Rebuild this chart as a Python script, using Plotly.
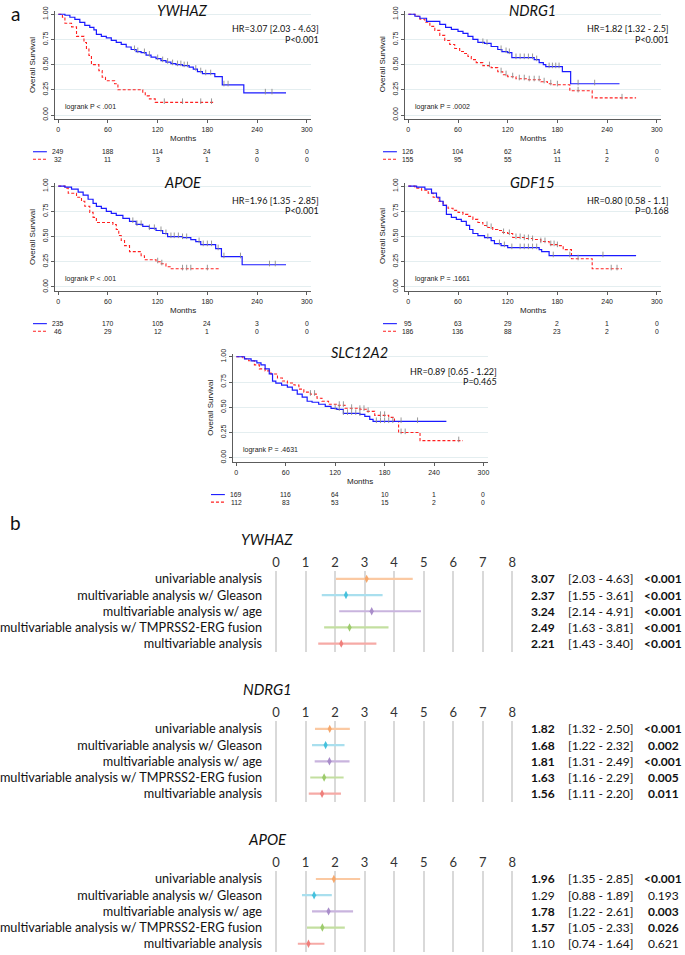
import plotly.graph_objects as go

W, H = 685, 955

# ---------------- Kaplan-Meier data ----------------
month_ticks = [0, 60, 120, 180, 240, 300]
surv_ticks = [0, 0.25, 0.5, 0.75, 1.0]
surv_tick_text = ["0.00", "0.25", "0.50", "0.75", "1.00"]
km_genes = ["YWHAZ", "NDRG1", "APOE", "GDF15", "SLC12A2"]

ywhaz_blue_t = [0, 8, 14, 20, 26, 32, 38, 43, 46, 52, 58, 64, 70, 76, 82, 88, 94, 100, 106, 112, 118, 124, 130, 136, 142, 150, 158, 163, 168, 174, 189, 198, 224, 275]
ywhaz_blue_s = [1, 0.99, 0.97, 0.95, 0.92, 0.89, 0.87, 0.845, 0.80, 0.78, 0.765, 0.74, 0.72, 0.70, 0.675, 0.65, 0.63, 0.62, 0.595, 0.575, 0.56, 0.54, 0.525, 0.51, 0.50, 0.49, 0.475, 0.455, 0.43, 0.41, 0.38, 0.30, 0.22, 0.22]
ywhaz_red_t = [0, 5, 8, 16, 22, 31, 34, 37, 40, 49, 53, 57, 68, 72, 102, 105, 110, 117, 187]
ywhaz_red_s = [1, 0.97, 0.91, 0.875, 0.78, 0.72, 0.66, 0.59, 0.50, 0.44, 0.375, 0.34, 0.31, 0.25, 0.22, 0.19, 0.16, 0.125, 0.125]
ywhaz_blue_cens = [92, 96, 104, 110, 120, 126, 132, 138, 144, 148, 152, 156, 166, 172, 178, 184, 200, 205, 250, 258]
ywhaz_red_cens = [128, 150, 172, 185]

ndrg1_blue_t = [0, 8, 14, 22, 38, 45, 52, 60, 66, 72, 78, 84, 92, 100, 108, 113, 120, 125, 152, 158, 163, 166, 186, 196, 255]
ndrg1_blue_s = [1, 0.98, 0.96, 0.93, 0.90, 0.87, 0.85, 0.83, 0.81, 0.78, 0.75, 0.72, 0.71, 0.68, 0.65, 0.63, 0.62, 0.57, 0.55, 0.52, 0.50, 0.48, 0.43, 0.31, 0.31]
ndrg1_red_t = [0, 8, 14, 20, 26, 32, 38, 44, 50, 56, 62, 68, 72, 76, 82, 90, 100, 108, 114, 120, 130, 145, 160, 168, 175, 195, 222, 275]
ndrg1_red_s = [1, 0.98, 0.95, 0.92, 0.88, 0.84, 0.79, 0.74, 0.70, 0.66, 0.63, 0.61, 0.58, 0.55, 0.52, 0.49, 0.47, 0.43, 0.40, 0.38, 0.36, 0.35, 0.33, 0.31, 0.30, 0.24, 0.17, 0.17]
ndrg1_blue_cens = [90, 95, 112, 118, 122, 130, 135, 140, 145, 150, 155, 170, 174, 178, 182, 205, 225]
ndrg1_red_cens = [98, 112, 118, 126, 134, 140, 146, 152, 158, 164, 172, 180, 205, 258]

apoe_blue_t = [0, 8, 16, 24, 30, 36, 42, 46, 52, 58, 64, 70, 78, 86, 94, 102, 110, 118, 126, 132, 150, 160, 166, 172, 190, 197, 222, 275]
apoe_blue_s = [1, 0.99, 0.97, 0.94, 0.91, 0.87, 0.83, 0.80, 0.78, 0.75, 0.73, 0.71, 0.68, 0.65, 0.62, 0.60, 0.58, 0.56, 0.53, 0.50, 0.49, 0.47, 0.45, 0.42, 0.38, 0.30, 0.22, 0.22]
apoe_red_t = [0, 8, 12, 22, 28, 32, 38, 42, 46, 66, 70, 73, 76, 80, 86, 100, 104, 118, 124, 130, 135, 195]
apoe_red_s = [1, 0.98, 0.93, 0.89, 0.85, 0.80, 0.74, 0.69, 0.64, 0.62, 0.57, 0.51, 0.46, 0.41, 0.35, 0.31, 0.27, 0.25, 0.23, 0.20, 0.18, 0.18]
apoe_blue_cens = [90, 95, 100, 110, 116, 124, 130, 136, 140, 145, 150, 155, 170, 175, 180, 185, 193, 200, 220, 255, 262]
apoe_red_cens = [120, 125, 150, 155, 160, 180]

gdf15_blue_t = [0, 10, 20, 28, 34, 38, 42, 46, 52, 58, 64, 70, 74, 78, 84, 92, 100, 104, 112, 120, 158, 161, 170, 275]
gdf15_blue_s = [1, 0.99, 0.97, 0.93, 0.89, 0.85, 0.81, 0.72, 0.69, 0.67, 0.65, 0.61, 0.57, 0.53, 0.51, 0.49, 0.46, 0.43, 0.41, 0.39, 0.37, 0.35, 0.31, 0.31]
gdf15_red_t = [0, 8, 16, 24, 30, 36, 42, 48, 54, 60, 66, 72, 78, 84, 90, 96, 102, 108, 114, 120, 126, 140, 150, 160, 170, 180, 187, 197, 222, 258]
gdf15_red_s = [1, 0.98, 0.96, 0.93, 0.89, 0.85, 0.81, 0.78, 0.76, 0.74, 0.72, 0.70, 0.67, 0.64, 0.61, 0.59, 0.57, 0.56, 0.54, 0.53, 0.49, 0.48, 0.47, 0.45, 0.42, 0.41, 0.37, 0.28, 0.18, 0.18]
gdf15_blue_cens = [96, 110, 116, 125, 135, 140, 145, 150, 155, 175, 195, 235]
gdf15_red_cens = [95, 100, 115, 122, 130, 135, 140, 145, 150, 160, 165, 172, 176, 180, 205, 245, 252]

slc_blue_t = [0, 10, 18, 25, 30, 35, 40, 44, 48, 55, 62, 68, 74, 80, 86, 92, 100, 108, 115, 122, 130, 150, 156, 162, 166, 255]
slc_blue_s = [1, 0.98, 0.96, 0.94, 0.92, 0.88, 0.83, 0.76, 0.74, 0.72, 0.70, 0.67, 0.63, 0.60, 0.56, 0.55, 0.53, 0.51, 0.49, 0.48, 0.44, 0.43, 0.41, 0.38, 0.36, 0.36]
slc_red_t = [0, 8, 15, 22, 28, 35, 42, 50, 56, 62, 70, 76, 82, 90, 98, 104, 112, 122, 132, 150, 158, 168, 185, 192, 197, 223, 275]
slc_red_s = [1, 0.98, 0.96, 0.92, 0.88, 0.86, 0.83, 0.79, 0.76, 0.74, 0.72, 0.68, 0.65, 0.63, 0.59, 0.56, 0.53, 0.52, 0.49, 0.48, 0.46, 0.42, 0.40, 0.36, 0.25, 0.17, 0.17]
slc_blue_cens = [120, 125, 130, 135, 140, 145, 150, 170, 175, 180, 185, 190, 200, 220]
slc_red_cens = [90, 95, 125, 130, 140, 150, 155, 160, 175, 180, 200, 205, 270]

ywhaz_risk_blue = [249, 188, 114, 24, 3, 0]
ywhaz_risk_red = [32, 11, 3, 1, 0, 0]
ndrg1_risk_blue = [126, 104, 62, 14, 1, 0]
ndrg1_risk_red = [155, 95, 55, 11, 2, 0]
apoe_risk_blue = [235, 170, 105, 24, 3, 0]
apoe_risk_red = [46, 29, 12, 1, 0, 0]
gdf15_risk_blue = [95, 63, 29, 2, 1, 0]
gdf15_risk_red = [186, 136, 88, 23, 2, 0]
slc_risk_blue = [169, 116, 64, 10, 1, 0]
slc_risk_red = [112, 83, 53, 15, 2, 0]

km_hr_text = ["HR=3.07 [2.03 - 4.63]", "HR=1.82 [1.32 - 2.5]", "HR=1.96 [1.35 - 2.85]", "HR=0.80 [0.58 - 1.1]", "HR=0.89 [0.65 - 1.22]"]
km_p_text = ["P<0.001", "P<0.001", "P<0.001", "P=0.168", "P=0.465"]
km_logrank = ["logrank P < .001", "logrank P = .0002", "logrank P < .001", "logrank P = .1661", "logrank P = .4631"]

# ---------------- Forest plot data ----------------
forest_genes = ["YWHAZ", "NDRG1", "APOE"]
analyses = ["univariable analysis", "multivariable analysis w/ Gleason", "multivariable analysis w/ age",
            "multivariable analysis w/ TMPRSS2-ERG fusion", "multivariable analysis"]
hr_ticks = [0, 1, 2, 3, 4, 5, 6, 7, 8]

ywhaz_hr = [3.07, 2.37, 3.24, 2.49, 2.21]
ywhaz_lo = [2.03, 1.55, 2.14, 1.63, 1.43]
ywhaz_hi = [4.63, 3.61, 4.91, 3.81, 3.40]
ywhaz_p = ["<0.001", "<0.001", "<0.001", "<0.001", "<0.001"]
ywhaz_sig = [True, True, True, True, True]

ndrg1_hr = [1.82, 1.68, 1.81, 1.63, 1.56]
ndrg1_lo = [1.32, 1.22, 1.31, 1.16, 1.11]
ndrg1_hi = [2.50, 2.32, 2.49, 2.29, 2.20]
ndrg1_p = ["<0.001", "0.002", "<0.001", "0.005", "0.011"]
ndrg1_sig = [True, True, True, True, True]

apoe_hr = [1.96, 1.29, 1.78, 1.57, 1.10]
apoe_lo = [1.35, 0.88, 1.22, 1.05, 0.74]
apoe_hi = [2.85, 1.89, 2.61, 2.33, 1.64]
apoe_p = ["<0.001", "0.193", "0.003", "0.026", "0.621"]
apoe_sig = [True, False, True, True, False]

# ---------------- styling / layout constants ----------------
LATO = "Lato, sans-serif"
ARIAL = "Liberation Sans, Arial, sans-serif"
BLUE = "#1a1aff"
RED = "#ff2020"
CENS = "#8c8c8c"
bar_colors = ["#fbc9a2", "#a9dfee", "#c9b4de", "#c3dfa0", "#f6aaa6"]
mark_colors = ["#f6a86c", "#45c1dd", "#a98dca", "#9dcb6c", "#ef7f7b"]

# panel geometry in pixels: x of month 0, px per month, y of surv=1, y of surv=0
km_geom = [(55.7, 0.8343, 9.3, 110.7), (408.3, 0.8343, 9.3, 110.7),
           (55.7, 0.8343, 182.3, 283.7), (408.3, 0.8343, 182.3, 283.7),
           (235.0, 0.830, 354.0, 455.7)]
XR = [-4.5, 305]
YR = [-0.045, 1.03]


def fx(p):
    return p / W


def fy(p):
    return 1 - p / H


def step_at(ts, ss, t):
    v = ss[0]
    for ti, si in zip(ts, ss):
        if ti <= t:
            v = si
    return v


def ann(text, x, y, xref="paper", yref="paper", xanchor="center", font=None, **kw):
    d = dict(text=text, x=x, y=y, xref=xref, yref=yref, xanchor=xanchor, yanchor="middle",
             showarrow=False, borderpad=0, font=font)
    d.update(kw)
    return d


km_curves = [
    (ywhaz_blue_t, ywhaz_blue_s, ywhaz_red_t, ywhaz_red_s, ywhaz_blue_cens, ywhaz_red_cens, ywhaz_risk_blue, ywhaz_risk_red),
    (ndrg1_blue_t, ndrg1_blue_s, ndrg1_red_t, ndrg1_red_s, ndrg1_blue_cens, ndrg1_red_cens, ndrg1_risk_blue, ndrg1_risk_red),
    (apoe_blue_t, apoe_blue_s, apoe_red_t, apoe_red_s, apoe_blue_cens, apoe_red_cens, apoe_risk_blue, apoe_risk_red),
    (gdf15_blue_t, gdf15_blue_s, gdf15_red_t, gdf15_red_s, gdf15_blue_cens, gdf15_red_cens, gdf15_risk_blue, gdf15_risk_red),
    (slc_blue_t, slc_blue_s, slc_red_t, slc_red_s, slc_blue_cens, slc_red_cens, slc_risk_blue, slc_risk_red),
]

fig = go.Figure()
annotations = []
shapes = []
layout_axes = {}

for i, gene in enumerate(km_genes):
    n = i + 1
    sfx = "" if n == 1 else str(n)
    xref, yref = "x" + sfx, "y" + sfx
    x0, ppm, y1, y0 = km_geom[i]
    unit = y0 - y1
    left = x0 + XR[0] * ppm
    right = x0 + XR[1] * ppm
    top = y0 - YR[1] * unit
    bottom = y0 - YR[0] * unit
    bt, bs, rt, rs, bc, rc, rb, rr = km_curves[i]

    fig.add_trace(go.Scatter(x=rt, y=rs, mode="lines", line=dict(color=RED, width=1.1, dash="3px,2px", shape="hv"),
                             xaxis=xref, yaxis=yref, hoverinfo="skip"))
    fig.add_trace(go.Scatter(x=bt, y=bs, mode="lines", line=dict(color=BLUE, width=1.2, shape="hv"),
                             xaxis=xref, yaxis=yref, hoverinfo="skip"))
    for cts, ts, ss in ((bc, bt, bs), (rc, rt, rs)):
        fig.add_trace(go.Scatter(x=cts, y=[step_at(ts, ss, c) + 0.012 for c in cts], mode="markers",
                                 marker=dict(symbol="line-ns-open", size=4, color=CENS,
                                             line=dict(color=CENS, width=0.9)),
                                 xaxis=xref, yaxis=yref, hoverinfo="skip"))

    layout_axes["xaxis" + sfx] = dict(domain=[fx(left), fx(right)], range=XR, anchor=yref,
                                      tickvals=month_ticks, ticks="outside", ticklen=3, tickwidth=0.8,
                                      tickcolor="#333", showline=True, linecolor="#333", linewidth=0.8,
                                      showgrid=False, zeroline=False,
                                      tickfont=dict(family=ARIAL, size=7, color="#222"))
    layout_axes["yaxis" + sfx] = dict(domain=[fy(bottom), fy(top)], range=YR, anchor=xref,
                                      tickvals=surv_ticks, ticktext=surv_tick_text, tickangle=-90,
                                      ticks="outside", ticklen=3, tickwidth=0.8, tickcolor="#333",
                                      showline=True, linecolor="#333", linewidth=0.8,
                                      showgrid=True, gridcolor="#e4eef0", gridwidth=1, zeroline=False,
                                      tickfont=dict(family=ARIAL, size=7, color="#222"))

    f_title = dict(family=LATO, size=14.5, color="#111")
    f_hr = dict(family=LATO, size=9, color="#111")
    f_ar = dict(family=ARIAL, size=7, color="#222")
    f_ar8 = dict(family=ARIAL, size=8, color="#222")
    annotations.append(ann("<i>" + gene + "</i>", fx(x0 + 150 * ppm), fy(y1 - 4), font=f_title))
    annotations.append(ann(km_hr_text[i], fx(x0 + 263.5), fy(y1 + 14.5), xanchor="right", font=f_hr))
    annotations.append(ann(km_p_text[i], fx(x0 + 263.5), fy(y1 + 25), xanchor="right", font=f_hr))
    annotations.append(ann(km_logrank[i], fx(x0 + 5.5), fy(y0 - 8.3), xanchor="left", font=f_ar))
    annotations.append(ann("Overall Survival", fx(x0 - 26), fy((y0 + y1) / 2), font=f_ar8, textangle=-90))
    annotations.append(ann("Months", fx(x0 + 150 * ppm), fy(bottom + 19.5), font=f_ar8))
    f_risk = dict(family=ARIAL, size=6.8, color="#222")
    for k, m in enumerate(month_ticks):
        annotations.append(ann(str(rb[k]), m, fy(bottom + 32.6), xref=xref, font=f_risk))
        annotations.append(ann(str(rr[k]), m, fy(bottom + 40), xref=xref, font=f_risk))
    shapes.append(dict(type="line", xref="paper", yref="paper", x0=fx(x0 - 25.5), x1=fx(x0 - 11.5),
                       y0=fy(bottom + 32.4), y1=fy(bottom + 32.4), line=dict(color=BLUE, width=1.1)))
    shapes.append(dict(type="line", xref="paper", yref="paper", x0=fx(x0 - 25.5), x1=fx(x0 - 11.5),
                       y0=fy(bottom + 40), y1=fy(bottom + 40), line=dict(color=RED, width=1.1, dash="3px,2px")))

# ---------------- forest plots ----------------
forest_data = [
    (ywhaz_hr, ywhaz_lo, ywhaz_hi, ywhaz_p, ywhaz_sig),
    (ndrg1_hr, ndrg1_lo, ndrg1_hi, ndrg1_p, ndrg1_sig),
    (apoe_hr, apoe_lo, apoe_hi, apoe_p, apoe_sig),
]
F_X0, F_PPU = 275.0, 29.75       # px of HR=0, px per unit
F_XR = [-0.15, 8.15]
ROW = 16.3
BLOCK = 151.0
COL_HR, COL_CI, COL_P = 544.0, 601.5, 665.0
f_val = dict(family=LATO, size=12, color="#111")

for b, gene in enumerate(forest_genes):
    n = 6 + b
    sfx = str(n)
    xref, yref = "x" + sfx, "y" + sfx
    hr, lo, hi, pv, sig = forest_data[b]
    row0 = 577.5 + b * BLOCK
    top = row0 - ROW / 2
    bottom = row0 + 4 * ROW + ROW / 2
    for r in range(5):
        fig.add_trace(go.Scatter(
            x=[hr[r]], y=[r], mode="markers", xaxis=xref, yaxis=yref, hoverinfo="skip",
            marker=dict(symbol="diamond-tall", size=6, color=mark_colors[r]),
            error_x=dict(type="data", symmetric=False, array=[hi[r] - hr[r]], arrayminus=[hr[r] - lo[r]],
                         color=bar_colors[r], thickness=2.2, width=0)))
        hr_txt = "%.2f" % hr[r]
        p_txt = pv[r]
        if sig[r]:
            hr_txt = "<b>" + hr_txt + "</b>"
            p_txt = "<b>" + p_txt + "</b>"
        annotations.append(ann(hr_txt, fx(COL_HR), r, yref=yref, font=f_val))
        annotations.append(ann("[%.2f - %.2f]" % (lo[r], hi[r]), fx(COL_CI), r, yref=yref, font=f_val))
        annotations.append(ann(p_txt, fx(COL_P), r, yref=yref, font=f_val))
    for txt, cx in (("HR", COL_HR), ("[95%CI]", COL_CI), ("P value", COL_P)):
        annotations.append(ann(txt, fx(cx), -1, yref=yref, font=dict(family=LATO, size=12, color="#222")))
    annotations.append(ann("<i>" + gene + "</i>", fx(266), fy(537 + b * BLOCK),
                           font=dict(family=LATO, size=15, color="#111")))

    left = F_X0 + F_XR[0] * F_PPU
    right = F_X0 + F_XR[1] * F_PPU
    layout_axes["xaxis" + sfx] = dict(domain=[fx(left), fx(right)], range=F_XR, anchor=yref, side="top",
                                      tickvals=hr_ticks, ticks="", showline=False, zeroline=False,
                                      showgrid=True, gridcolor="#d9d9d9", gridwidth=2,
                                      tickfont=dict(family=LATO, size=13, color="#333"))
    layout_axes["yaxis" + sfx] = dict(domain=[fy(bottom), fy(top)], range=[4.5, -0.5], anchor=xref,
                                      tickvals=[0, 1, 2, 3, 4], ticktext=analyses, ticks="outside", ticklen=6,
                                      tickcolor="rgba(0,0,0,0)", showline=False, zeroline=False, showgrid=False,
                                      tickfont=dict(family=LATO, size=12.7, color="#111"))

# panel letters
annotations.append(ann("a", fx(13), fy(9), font=dict(family=LATO, size=19, color="#111")))
annotations.append(ann("b", fx(13), fy(521), font=dict(family=LATO, size=19, color="#111")))

fig.update_layout(width=W, height=H, margin=dict(l=0, r=0, t=0, b=0), showlegend=False,
                  plot_bgcolor="white", paper_bgcolor="white", hovermode=False,
                  annotations=annotations, shapes=shapes, **layout_axes)

fig.write_html("out.html", config={"displayModeBar": False, "staticPlot": True},
               post_script="document.body.style.margin='0';document.body.style.padding='0';"
                           "document.body.style.overflow='hidden';")
